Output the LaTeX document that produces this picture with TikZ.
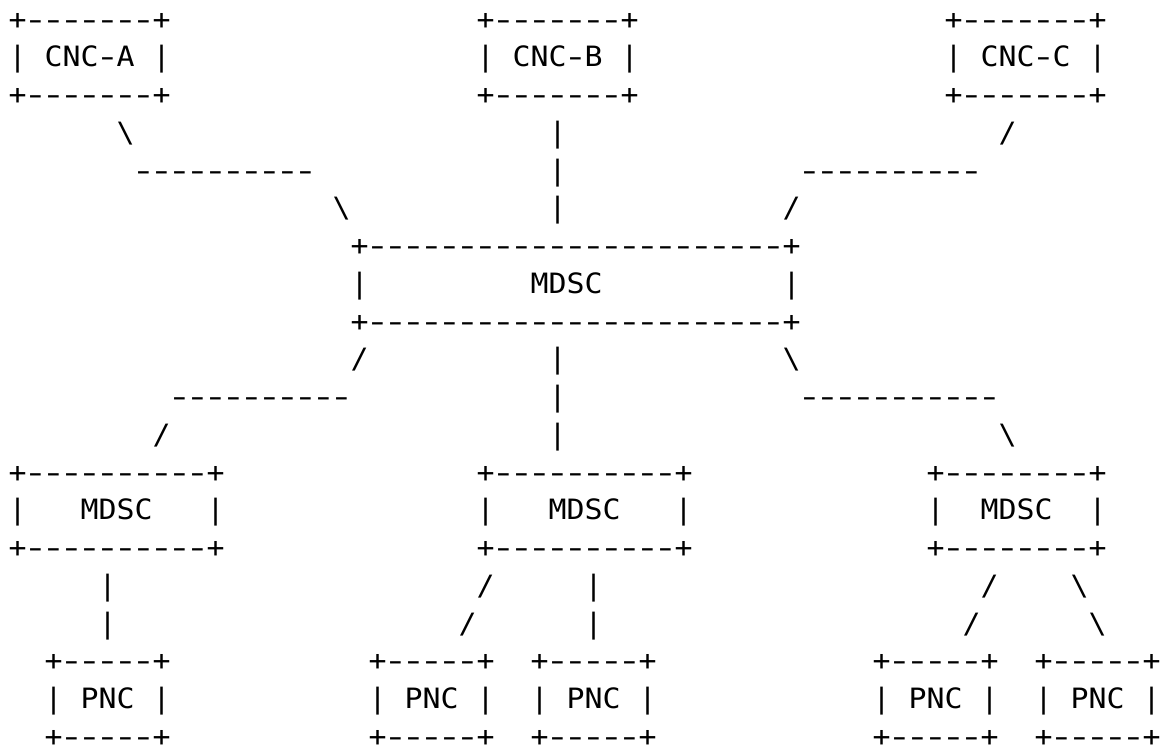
\documentclass[tikz,border=0pt]{standalone}
\usepackage{fontspec}
\usepackage{graphicx}
\newfontfamily\monofam[Ligatures=TeXOff,FakeStretch=1.068]{DejaVu Sans Mono}
\newcommand\mono{\monofam\fontsize{28bp}{37.8bp}\selectfont}
\newlength\cw
% a slightly longer dash, centred in its character cell
\newcommand\dsh{\makebox[\cw][c]{\scalebox{1.4}[1]{-}}}
\newcommand\dashes[1]{\foreach \k in {1,...,#1}{\dsh}}
\tikzset{
  txt/.style={anchor=base west, inner sep=0pt, outer sep=0pt, font=\mono, text=black},
}
% place a text run at a character cell (column, row)
\newcommand\cell[4]{\node[txt] (#1) at ({8.5+18*(#2)},{718.8-37.74*(#3)}) {#4};}
\newcommand\bs{\textbackslash}
\begin{document}
\settowidth{\cw}{\mono -}
\begin{tikzpicture}[x=1bp,y=1bp]
\useasboundingbox[fill=white] (0,0) rectangle (1164,748);

% customer network controllers
\foreach \n/\c in {A/0,B/26,C/52}{
  \cell{cnc\n-top}{\c}{0}{+\dashes{7}+}
  \cell{cnc\n-l}{\c}{1}{|}
  \cell{cnc\n}{\c+2}{1}{CNC\dsh\n}
  \cell{cnc\n-r}{\c+8}{1}{|}
  \cell{cnc\n-bot}{\c}{2}{+\dashes{7}+}
}

% links from the CNCs down to the top MDSC
\cell{ua1}{6}{3}{\bs}
\cell{ua2}{7}{4}{\dashes{10}}
\cell{ua3}{18}{5}{\bs}
\cell{ub1}{30}{3}{|}
\cell{ub2}{30}{4}{|}
\cell{ub3}{30}{5}{|}
\cell{uc1}{55}{3}{/}
\cell{uc2}{44}{4}{\dashes{10}}
\cell{uc3}{43}{5}{/}

% top MDSC
\cell{mdsc-top}{19}{6}{+\dashes{23}+}
\cell{mdsc-l}{19}{7}{|}
\cell{mdsc}{29}{7}{MDSC}
\cell{mdsc-r}{43}{7}{|}
\cell{mdsc-bot}{19}{8}{+\dashes{23}+}

% links from the top MDSC to the lower MDSCs
\cell{da1}{19}{9}{/}
\cell{da2}{9}{10}{\dashes{10}}
\cell{da3}{8}{11}{/}
\cell{db1}{30}{9}{|}
\cell{db2}{30}{10}{|}
\cell{db3}{30}{11}{|}
\cell{dc1}{43}{9}{\bs}
\cell{dc2}{44}{10}{\dashes{11}}
\cell{dc3}{55}{11}{\bs}

% lower MDSCs
\cell{mdscL-top}{0}{12}{+\dashes{10}+}
\cell{mdscL-l}{0}{13}{|}
\cell{mdscL}{4}{13}{MDSC}
\cell{mdscL-r}{11}{13}{|}
\cell{mdscL-bot}{0}{14}{+\dashes{10}+}

\cell{mdscM-top}{26}{12}{+\dashes{10}+}
\cell{mdscM-l}{26}{13}{|}
\cell{mdscM}{30}{13}{MDSC}
\cell{mdscM-r}{37}{13}{|}
\cell{mdscM-bot}{26}{14}{+\dashes{10}+}

\cell{mdscR-top}{51}{12}{+\dashes{8}+}
\cell{mdscR-l}{51}{13}{|}
\cell{mdscR}{54}{13}{MDSC}
\cell{mdscR-r}{60}{13}{|}
\cell{mdscR-bot}{51}{14}{+\dashes{8}+}

% links from the lower MDSCs to the PNCs
\cell{p1a}{5}{15}{|}
\cell{p1b}{5}{16}{|}
\cell{p2a}{26}{15}{/}
\cell{p2b}{25}{16}{/}
\cell{p3a}{32}{15}{|}
\cell{p3b}{32}{16}{|}
\cell{p4a}{54}{15}{/}
\cell{p4b}{53}{16}{/}
\cell{p5a}{59}{15}{\bs}
\cell{p5b}{60}{16}{\bs}

% provisioning network controllers
\foreach \i/\c in {1/2,2/20,3/29,4/48,5/57}{
  \cell{pnc\i-top}{\c}{17}{+\dashes{5}+}
  \cell{pnc\i-l}{\c}{18}{|}
  \cell{pnc\i}{\c+2}{18}{PNC}
  \cell{pnc\i-r}{\c+6}{18}{|}
  \cell{pnc\i-bot}{\c}{19}{+\dashes{5}+}
}
\end{tikzpicture}
\end{document}
